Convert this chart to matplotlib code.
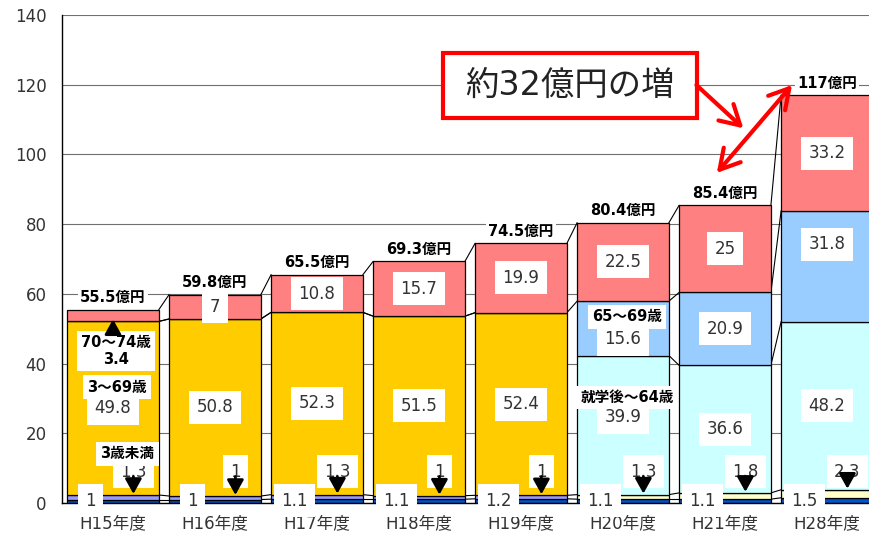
import numpy as np
import matplotlib
matplotlib.use('Agg')
import matplotlib.pyplot as plt
from matplotlib.patches import Rectangle

# 年度ごとの内訳 (億円)
years = ['H15年度', 'H16年度', 'H17年度', 'H18年度', 'H19年度', 'H20年度', 'H21年度', 'H28年度']
base = [1, 1, 1.1, 1.1, 1.2, 1.1, 1.1, 1.5]
young = [1.3, 1, 1.3, 1, 1, 1.3, 1.8, 2.3]            # 3歳未満 / 未就学
mid = [49.8, 50.8, 52.3, 51.5, 52.4, 39.9, 36.6, 48.2]  # 3～69歳 / 就学後～64歳
age65 = [0, 0, 0, 0, 0, 15.6, 20.9, 31.8]               # 65～69歳
age70 = [3.4, 7, 10.8, 15.7, 19.9, 22.5, 25, 33.2]      # 70～74歳
totals = [55.5, 59.8, 65.5, 69.3, 74.5, 80.4, 85.4, 117]

plt.rcParams['font.family'] = ['DejaVu Sans', 'Noto Sans CJK JP']

n = len(years)
x = np.arange(n)
w = 0.9
new = x >= 5   # H20年度から区分が変わる

c_young = np.where(new, '#FFFFCC', '#9999FF')
c_mid = np.where(new, '#CCFFFF', '#FFCC00')

fig = plt.figure(figsize=(8.7, 5.35), dpi=100)
ax = fig.add_axes([62/870, 32/535, 816/870, 488/535])

layers = [base, young, mid, age65, age70]
colors = [['#0055CC']*n, list(c_young), list(c_mid), ['#99CCFF']*n, ['#FF8080']*n]
bottom = np.zeros(n)
tops = []
for vals, col in zip(layers, colors):
    vals = np.array(vals, float)
    ax.bar(x, vals, w, bottom=bottom, color=col, edgecolor='black', linewidth=0.9, zorder=2)
    bottom = bottom + vals
    tops.append(bottom.copy())

# 区分線 (series lines)
for i in range(n - 1):
    for k, t in enumerate(tops):
        if k == 2 and new[i] != new[i + 1]:
            continue
        ax.plot([x[i] + w/2, x[i + 1] - w/2], [t[i], t[i + 1]], color='black', lw=0.8, zorder=1.5)

ax.set_xlim(-0.5, 7.5)
ax.set_ylim(0, 140)
ax.set_yticks(range(0, 141, 20))
ax.yaxis.grid(True, color='#707070', lw=0.8)
ax.set_axisbelow(True)
ax.set_xticks(x, years)
ax.tick_params(axis='both', length=0, labelsize=12, labelcolor='#333333')
ax.tick_params(axis='y', pad=11)
ax.tick_params(axis='x', pad=8)
for s in ['top', 'right']:
    ax.spines[s].set_visible(False)
for s in ['left', 'bottom']:
    ax.spines[s].set_color('black')
    ax.spines[s].set_linewidth(1)

box = dict(boxstyle='square,pad=0.45', fc='white', ec='none')


def num(xv, yv, v, **kw):
    ax.text(xv, yv, f'{v:g}', ha='center', va='center', fontsize=12, color='#333333',
            bbox=box, zorder=5, **kw)


def tag(xv, yv, s):
    ax.text(xv, yv, s, ha='center', va='center', fontsize=10.5, fontweight='bold', color='black',
            bbox=dict(boxstyle='square,pad=0.3', fc='white', ec='none'), zorder=5, linespacing=1.1)


arrow_k = dict(arrowstyle='-|>,head_length=0.45,head_width=0.25', color='black', lw=2,
               mutation_scale=20, shrinkA=0, shrinkB=0)

for i in range(n):
    # 合計
    ax.text(x[i], totals[i] + 3.4, f'{totals[i]:g}億円', ha='center', va='center', fontsize=10.5,
            fontweight='bold', color='black',
            bbox=dict(boxstyle='square,pad=0.15', fc='white', ec='none'), zorder=4)
    # 最下段
    num(x[i] - 0.22, 0.6, base[i], clip_on=False)
    # 3歳未満 / 未就学
    num(x[i] + 0.2, 8.9, young[i])
    ax.annotate('', xy=(x[i] + 0.2, tops[1][i] + 0.3), xytext=(x[i] + 0.2, 7.6),
                arrowprops=arrow_k, zorder=6)
    # 中段
    ym = (tops[1][i] + tops[2][i]) / 2
    if i == 5:
        ym += 2.3
    num(x[i], ym, mid[i])
    # 65～69歳
    if age65[i] > 0:
        y65 = (tops[2][i] + tops[3][i]) / 2
        if i == 5:
            y65 -= 3.1
        if i == 7:
            y65 += 6.4
        num(x[i], y65, age65[i])
    # 70～74歳
    if i > 0:
        num(x[i], (tops[3][i] + tops[4][i]) / 2, age70[i])

tag(0.03, 43.6, f'70～74歳\n{age70[0]:g}')
ax.annotate('', xy=(0.0, tops[3][0] + 0.6), xytext=(0.0, 49.0), arrowprops=arrow_k, zorder=6)
tag(0.04, 33.2, '3～69歳')
tag(0.14, 14.1, '3歳未満')
tag(5.04, 53.4, '65～69歳')
tag(5.04, 30.3, '就学後～64歳')

# 増加額の注記
ax.add_patch(Rectangle((3.235, 110.45), 2.49, 18.65, fc='white', ec='#FF0000', lw=3, zorder=7))
ax.text(4.48, 119.8, '約32億円の増', ha='center', va='center', fontsize=24, color='#222222', zorder=8)
red = dict(arrowstyle='->,head_length=0.7,head_width=0.4', color='#FF0000', lw=3,
           mutation_scale=20, shrinkA=0, shrinkB=0)
ax.annotate('', xy=(6.18, 107.5), xytext=(5.72, 119.9), arrowprops=red, zorder=8)
red2 = dict(red, arrowstyle='<->,head_length=0.7,head_width=0.4')
ax.annotate('', xy=(6.657, 119.9), xytext=(5.92, 94.7), arrowprops=red2, zorder=8)

fig.savefig('out.png', dpi=100)
